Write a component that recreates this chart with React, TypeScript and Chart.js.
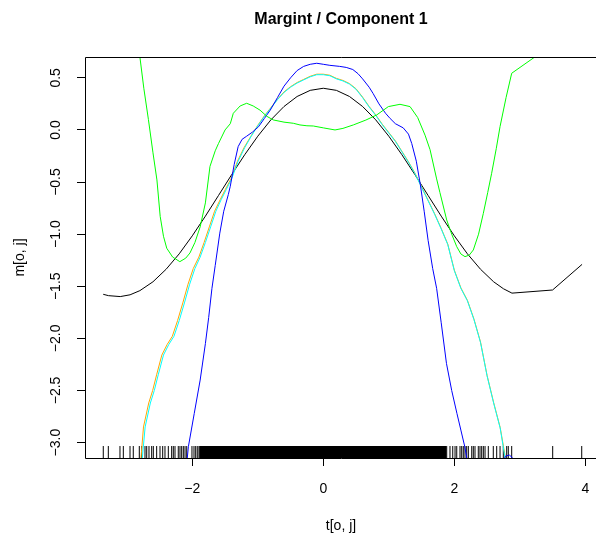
import React, { useEffect, useRef } from "react";
import { Chart, registerables } from "chart.js";

Chart.register(...registerables);

const X_MIN = -3.638;
const X_MAX = 4.163;
const Y_MIN = -3.148;
const Y_MAX = 0.7;
const RUG_LEN = 0.115;

const xTicks = [-2, 0, 2, 4];
const yTicks = [-3, -2.5, -2, -1.5, -1, -0.5, 0, 0.5];

const TITLE = "Margint / Component 1";
const X_LABEL = "t[o, j]";
const Y_LABEL = "m[o, j]";

const blackX = [-3.36, -3.28, -3.1, -2.95, -2.8, -2.6, -2.4, -2.2, -2.0, -1.8, -1.6, -1.4, -1.2, -1.0, -0.8, -0.6, -0.4, -0.2, 0, 0.2, 0.4, 0.6, 0.8, 1.0, 1.2, 1.4, 1.6, 1.8, 2.0, 2.2, 2.4, 2.6, 2.75, 2.88, 3.5, 3.95];
const blackY = [-1.577, -1.59, -1.599, -1.582, -1.542, -1.457, -1.337, -1.189, -1.016, -0.827, -0.629, -0.43, -0.238, -0.06, 0.097, 0.225, 0.321, 0.38, 0.4, 0.38, 0.321, 0.225, 0.097, -0.06, -0.238, -0.43, -0.629, -0.827, -1.016, -1.189, -1.337, -1.457, -1.524, -1.566, -1.536, -1.29];

const cyanX = [-2.77, -2.72, -2.64, -2.58, -2.52, -2.44, -2.36, -2.28, -2.2, -2.12, -2.04, -1.96, -1.88, -1.8, -1.72, -1.64, -1.56, -1.48, -1.4, -1.3, -1.2, -1.1, -1.0, -0.9, -0.8, -0.7, -0.6, -0.5, -0.4, -0.3, -0.2, -0.1, 0, 0.1, 0.2, 0.3, 0.4, 0.5, 0.6, 0.7, 0.8, 0.9, 1.0, 1.1, 1.2, 1.3, 1.4, 1.5, 1.6, 1.7, 1.8, 1.9, 2.0, 2.1, 2.2, 2.3, 2.4, 2.5, 2.6, 2.7, 2.77, 2.8];
const cyanY = [-3.2, -2.85, -2.62, -2.5, -2.35, -2.16, -2.06, -1.98, -1.83, -1.66, -1.48, -1.33, -1.22, -1.08, -0.93, -0.78, -0.67, -0.57, -0.47, -0.3, -0.17, -0.06, 0.04, 0.13, 0.21, 0.29, 0.36, 0.41, 0.45, 0.48, 0.51, 0.53, 0.53, 0.52, 0.49, 0.47, 0.44, 0.39, 0.31, 0.22, 0.14, 0.05, -0.03, -0.11, -0.21, -0.31, -0.42, -0.55, -0.68, -0.81, -0.95, -1.1, -1.35, -1.52, -1.64, -1.82, -2.04, -2.36, -2.62, -2.86, -3.13, -3.3];

const orangeX = [-2.79, -2.745, -2.665, -2.605, -2.545, -2.465, -2.385, -2.305, -2.225, -2.145, -2.065, -1.985, -1.9, -1.82, -1.74, -1.66, -1.575, -1.495, -1.41, -1.31, -1.21, -1.105, -1.0, -0.9, -0.8, -0.7, -0.6, -0.5, -0.4, -0.3, -0.2, -0.1, 0, 0.1, 0.2, 0.3, 0.4, 0.5, 0.6, 0.7, 0.8, 0.9, 1.0, 1.1, 1.2, 1.3, 1.4, 1.5, 1.6, 1.7, 1.8, 1.9, 2.0, 2.1, 2.2, 2.3, 2.4, 2.5, 2.6, 2.7, 2.775, 2.81];
const orangeY = [-3.2, -2.85, -2.62, -2.5, -2.35, -2.16, -2.06, -1.98, -1.83, -1.66, -1.48, -1.33, -1.22, -1.08, -0.93, -0.78, -0.67, -0.57, -0.47, -0.3, -0.17, -0.06, 0.045, 0.135, 0.215, 0.295, 0.365, 0.415, 0.455, 0.485, 0.515, 0.535, 0.535, 0.525, 0.495, 0.475, 0.445, 0.395, 0.315, 0.225, 0.145, 0.055, -0.025, -0.105, -0.205, -0.305, -0.415, -0.545, -0.675, -0.805, -0.945, -1.095, -1.345, -1.515, -1.635, -1.815, -2.035, -2.355, -2.615, -2.855, -3.125, -3.3];

const blueX = [-2.1, -2.06, -1.97, -1.88, -1.8, -1.75, -1.7, -1.65, -1.58, -1.52, -1.45, -1.42, -1.36, -1.3, -1.24, -1.17, -1.08, -0.99, -0.9, -0.81, -0.7, -0.6, -0.5, -0.4, -0.3, -0.2, -0.1, 0.0, 0.1, 0.25, 0.35, 0.45, 0.53, 0.6, 0.7, 0.76, 0.85, 0.95, 1.02, 1.1, 1.22, 1.3, 1.35, 1.42, 1.48, 1.54, 1.6, 1.67, 1.73, 1.8, 1.88, 1.96, 2.04, 2.1, 2.16, 2.22, 2.5, 2.74, 2.78, 2.84, 2.88, 2.95];
const blueY = [-3.3, -3.04, -2.72, -2.4, -2.05, -1.8, -1.52, -1.3, -0.99, -0.78, -0.62, -0.54, -0.33, -0.16, -0.09, -0.06, -0.02, 0.03, 0.11, 0.19, 0.31, 0.42, 0.5, 0.57, 0.61, 0.63, 0.64, 0.63, 0.62, 0.61, 0.6, 0.58, 0.54, 0.49, 0.41, 0.35, 0.25, 0.16, 0.11, 0.06, 0.02, -0.04, -0.13, -0.3, -0.52, -0.78, -1.06, -1.33, -1.52, -1.85, -2.24, -2.5, -2.72, -2.88, -3.04, -3.25, -3.5, -3.2, -3.13, -3.12, -3.14, -3.4];

const greenX = [-3.36, -3.1, -2.95, -2.8, -2.74, -2.67, -2.6, -2.54, -2.49, -2.44, -2.39, -2.3, -2.19, -2.1, -2.035, -1.96, -1.88, -1.8, -1.73, -1.65, -1.6, -1.5, -1.42, -1.374, -1.27, -1.17, -1.07, -0.966, -0.86, -0.763, -0.6, -0.458, -0.356, -0.25, -0.153, 0.0, 0.179, 0.3, 0.458, 0.65, 0.815, 0.993, 1.171, 1.324, 1.44, 1.553, 1.63, 1.73, 1.78, 1.884, 1.96, 2.037, 2.1, 2.163, 2.23, 2.29, 2.37, 2.443, 2.51, 2.57, 2.64, 2.698, 2.79, 2.876, 3.5, 3.95];
const greenY = [4.0, 2.3, 1.45, 0.7, 0.4, 0.1, -0.22, -0.48, -0.83, -1.02, -1.135, -1.22, -1.264, -1.23, -1.18, -1.08, -0.93, -0.7, -0.35, -0.2, -0.13, 0.0, 0.06, 0.16, 0.23, 0.256, 0.23, 0.19, 0.13, 0.096, 0.075, 0.064, 0.048, 0.04, 0.038, 0.02, 0.0, 0.015, 0.048, 0.095, 0.144, 0.224, 0.246, 0.224, 0.12, -0.05, -0.19, -0.47, -0.6, -0.864, -1.0, -1.12, -1.19, -1.216, -1.2, -1.152, -1.0, -0.8, -0.6, -0.416, -0.18, 0.032, 0.31, 0.544, 0.82, 1.0];

const rugLeft = [-3.359, -3.282, -3.104, -3.053, -2.951, -2.901, -2.809, -2.773, -2.722, -2.696, -2.661, -2.62, -2.595, -2.544, -2.493, -2.452, -2.417, -2.366, -2.315, -2.29, -2.264, -2.214, -2.188, -2.162, -2.137, -2.111, -2.085, -2.005, -1.974, -1.948, -1.924, -1.898];
const rugMiddle = [-1.88, -1.86, -1.85, -1.83, -1.81, -1.79, -1.78, -1.76, -1.74, -1.72, -1.71, -1.69, -1.67, -1.66, -1.64, -1.62, -1.6, -1.59, -1.57, -1.55, -1.54, -1.52, -1.5, -1.48, -1.47, -1.45, -1.43, -1.42, -1.4, -1.38, -1.37, -1.35, -1.33, -1.31, -1.3, -1.28, -1.26, -1.25, -1.23, -1.21, -1.2, -1.18, -1.16, -1.14, -1.13, -1.11, -1.09, -1.08, -1.06, -1.04, -1.03, -1.01, -0.99, -0.97, -0.96, -0.94, -0.92, -0.91, -0.89, -0.87, -0.86, -0.84, -0.82, -0.8, -0.79, -0.77, -0.75, -0.74, -0.72, -0.7, -0.69, -0.67, -0.65, -0.63, -0.62, -0.6, -0.58, -0.57, -0.55, -0.53, -0.52, -0.5, -0.48, -0.46, -0.45, -0.43, -0.41, -0.4, -0.38, -0.36, -0.35, -0.33, -0.31, -0.29, -0.28, -0.26, -0.24, -0.23, -0.21, -0.19, -0.18, -0.16, -0.14, -0.12, -0.11, -0.09, -0.07, -0.06, -0.04, -0.02, -0.01, 0.01, 0.03, 0.05, 0.06, 0.08, 0.1, 0.11, 0.13, 0.15, 0.16, 0.18, 0.2, 0.22, 0.23, 0.25, 0.27, 0.28, 0.3, 0.32, 0.33, 0.35, 0.37, 0.39, 0.4, 0.42, 0.44, 0.45, 0.47, 0.49, 0.5, 0.52, 0.54, 0.56, 0.57, 0.59, 0.61, 0.62, 0.64, 0.66, 0.67, 0.69, 0.71, 0.73, 0.74, 0.76, 0.78, 0.79, 0.81, 0.83, 0.84, 0.86, 0.88, 0.9, 0.91, 0.93, 0.95, 0.96, 0.98, 1.0, 1.01, 1.03, 1.05, 1.07, 1.08, 1.1, 1.12, 1.13, 1.15, 1.17, 1.18, 1.2, 1.22, 1.24, 1.25, 1.27, 1.29, 1.3, 1.32, 1.34, 1.35, 1.37, 1.39, 1.41, 1.42, 1.44, 1.46, 1.47, 1.49, 1.51, 1.52, 1.54, 1.56, 1.58, 1.59, 1.61, 1.63, 1.64, 1.66, 1.68, 1.69, 1.71, 1.73, 1.75, 1.76, 1.78, 1.8, 1.81, 1.83, 1.85, 1.865];
const rugRight = [1.884, 1.934, 1.976, 2.011, 2.037, 2.087, 2.113, 2.137, 2.163, 2.189, 2.214, 2.266, 2.29, 2.316, 2.366, 2.392, 2.418, 2.443, 2.469, 2.519, 2.595, 2.647, 2.698, 2.748, 2.8, 2.824, 2.876, 3.502, 3.945];

const FONT = "'Liberation Sans', Arial, Helvetica, sans-serif";

function pts(xs: number[], ys: number[]) {
  return xs.map((x, i) => ({ x, y: ys[i] }));
}

function rugPts(xs: number[]) {
  return xs.flatMap((x) => [
    { x, y: Y_MIN },
    { x, y: Y_MIN + RUG_LEN },
    { x, y: null as any },
  ]);
}

const fmtX = (v: number) => v.toFixed(0).replace("-", "\u2212");
const fmtY = (v: number) => v.toFixed(1).replace("-", "\u2212");

const frame = {
  id: "rframe",
  afterDraw(chart: any) {
    const { ctx, chartArea } = chart;
    const xs = chart.scales.x;
    const ys = chart.scales.y;
    ctx.save();
    ctx.strokeStyle = "#000";
    ctx.lineWidth = 1;
    const l = Math.floor(chartArea.left) + 0.5;
    const t = Math.floor(chartArea.top) + 0.5;
    const b = Math.floor(chartArea.bottom) + 0.5;
    ctx.beginPath();
    ctx.moveTo(l, b);
    ctx.lineTo(l, t);
    ctx.lineTo(chartArea.right + 2, t);
    ctx.moveTo(l, b);
    ctx.lineTo(chartArea.right + 2, b);
    ctx.stroke();

    ctx.fillStyle = "#000";
    ctx.font = `14px ${FONT}`;
    ctx.textAlign = "center";
    ctx.textBaseline = "alphabetic";
    for (const v of xTicks) {
      ctx.fillText(fmtX(v), xs.getPixelForValue(v), 493);
    }
    for (const v of yTicks) {
      const y = ys.getPixelForValue(v);
      ctx.save();
      ctx.translate(60, y);
      ctx.rotate(-Math.PI / 2);
      ctx.fillText(fmtY(v), 0, 0);
      ctx.restore();
    }
    const cx = (chartArea.left + 597) / 2;
    ctx.fillText(X_LABEL, cx, 530);
    ctx.save();
    ctx.translate(24, (chartArea.top + chartArea.bottom) / 2);
    ctx.rotate(-Math.PI / 2);
    ctx.fillText(Y_LABEL, 0, 0);
    ctx.restore();
    ctx.font = `bold 16px ${FONT}`;
    ctx.fillText(TITLE, cx, 24);
    ctx.restore();
  },
};

export default function App() {
  const ref = useRef<HTMLCanvasElement>(null);
  useEffect(() => {
    document.body.style.margin = "0";
    if (!ref.current) return;
    const line = (label: string, data: any[], color: string, w = 1) => ({
      label,
      data,
      borderColor: color,
      backgroundColor: color,
      borderWidth: w,
      pointRadius: 0,
      fill: false,
      tension: 0,
      spanGaps: false,
    });
    const chart = new Chart(ref.current, {
      type: "line",
      data: {
        datasets: [
          line("green", pts(greenX, greenY), "#00FF00"),
          line("blue", pts(blueX, blueY), "#0000FF"),
          line("cyan", pts(cyanX, cyanY), "#00FFFF"),
          line("orange", pts(orangeX, orangeY), "#FFA500"),
          line("black", pts(blackX, blackY), "#000000"),
          line("rug", rugPts([...rugLeft, ...rugRight]), "#000000", 1),
          line("rugDense", rugPts(rugMiddle), "#000000", 1.8),
        ] as any,
      },
      options: {
        responsive: false,
        animation: false,
        devicePixelRatio: 1,
        events: [],
        layout: { padding: { top: 57, right: 0, left: 0, bottom: 0 } },
        plugins: {
          legend: { display: false },
          title: { display: false },
          tooltip: { enabled: false },
        },
        scales: {
          x: {
            type: "linear",
            min: X_MIN,
            max: X_MAX,
            afterBuildTicks: (s: any) => {
              s.ticks = xTicks.map((v) => ({ value: v }));
            },
            afterFit: (s: any) => {
              s.height = 81;
            },
            ticks: { display: false },
            border: { display: false },
            grid: {
              drawOnChartArea: false,
              drawTicks: true,
              tickLength: 8,
              color: "#000",
              lineWidth: 1,
            },
          },
          y: {
            type: "linear",
            min: Y_MIN,
            max: Y_MAX,
            afterBuildTicks: (s: any) => {
              s.ticks = yTicks.map((v) => ({ value: v }));
            },
            afterFit: (s: any) => {
              s.width = 85;
            },
            ticks: { display: false },
            border: { display: false },
            grid: {
              drawOnChartArea: false,
              drawTicks: true,
              tickLength: 8,
              color: "#000",
              lineWidth: 1,
            },
          },
        },
      },
      plugins: [frame],
    });
    return () => chart.destroy();
  }, []);
  return (
    <div style={{ width: 596, height: 539 }}>
      <canvas ref={ref} width={596} height={539} style={{ display: "block" }} />
    </div>
  );
}
